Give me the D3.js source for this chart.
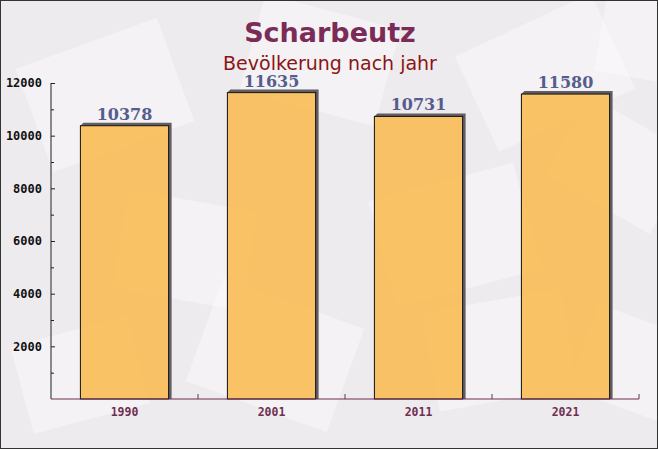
<!DOCTYPE html>
<html><head><meta charset="utf-8">
<script src="https://cdn.jsdelivr.net/npm/d3@7"></script>
<style>html,body{margin:0;padding:0;background:#fff}svg{display:block}</style>
</head><body>
<script>
const years = ["1990", "2001", "2011", "2021"];
const population = [10378, 11635, 10731, 11580];
const yTicks = [2000, 4000, 6000, 8000, 10000, 12000];
const title = "Scharbeutz";
const subtitle = "Bevölkerung nach jahr";

const W = 658, H = 449;
const m = {left: 51, right: 19, top: 83, bottom: 50};
const svg = d3.select("body").append("svg").attr("width", W).attr("height", H);

// background
svg.append("rect").attr("width", W).attr("height", H).attr("fill", "#eeebee");
const deco = svg.append("g");
const shapes = [[30,40,150,110,-20],[250,10,140,100,15],[470,20,150,105,-25],[560,120,120,90,30],[120,200,130,100,10],[380,180,150,110,-15],[200,300,150,110,20],[430,300,140,100,-10],[20,330,120,90,-15],[580,320,110,90,20],[600,0,100,80,10]];
shapes.forEach(s => {
  deco.append("rect").attr("x", s[0]).attr("y", s[1]).attr("width", s[2]).attr("height", s[3])
    .attr("fill", "#ffffff").attr("opacity", 0.35)
    .attr("transform", `rotate(${s[4]},${s[0]+s[2]/2},${s[1]+s[3]/2})`);
});

const x = d3.scaleBand().domain(years).range([m.left, W - m.right]).paddingInner(0.4).paddingOuter(0.2);
const xb = d3.scaleBand().domain(years).range([m.left, W - m.right]);
const y = d3.scaleLinear().domain([0, 12000]).range([H - m.bottom, m.top]);

// shadows
const d = 3;
svg.append("g").selectAll("path").data(population).join("path")
  .attr("d", (v, i) => {
    const x0 = x(years[i]), x1 = x0 + x.bandwidth(), yt = y(v), yb = y(0);
    return `M${x0},${yt} L${x0+d},${yt-d} L${x1+d},${yt-d} L${x1+d},${yb} L${x1},${yb} L${x1},${yt} Z`;
  })
  .attr("fill", "#615d63");

svg.append("g").selectAll("rect").data(population).join("rect")
  .attr("x", (v, i) => x(years[i])).attr("y", v => y(v))
  .attr("width", x.bandwidth()).attr("height", v => y(0) - y(v))
  .attr("fill", "#f9bd55").attr("fill-opacity", 0.9)
  .attr("stroke", "#111").attr("stroke-width", 1);

// value labels
svg.append("g").selectAll("text").data(population).join("text")
  .attr("x", (v, i) => x(years[i]) + x.bandwidth() / 2)
  .attr("y", v => y(v) - 6)
  .attr("text-anchor", "middle")
  .attr("font-family", "DejaVu Serif").attr("font-weight", "bold").attr("font-size", 16)
  .attr("fill", "#565d8c").text(v => v);

// y axis
const yAxis = d3.axisLeft(y).tickValues(d3.range(1000, 12001, 1000)).tickSize(-4)
  .tickFormat(v => yTicks.includes(v) ? v : "");
const gy = svg.append("g").attr("transform", `translate(${m.left},0)`).call(yAxis);
gy.select(".domain").attr("stroke", "#222").attr("d", `M${0},${y(12000)}V${y(0)}`);
gy.selectAll(".tick line").attr("stroke", "#222").attr("x2", v => yTicks.includes(v) ? 4 : 3);
gy.selectAll(".tick text").attr("x", -9)
  .attr("font-family", "DejaVu Sans Mono").attr("font-weight", "bold").attr("font-size", 12).attr("fill", "#111");

// x axis
const gx = svg.append("g").attr("transform", `translate(0,${y(0)})`);
gx.append("line").attr("x1", m.left).attr("x2", W - m.right).attr("stroke", "#6e2f52");
gx.selectAll("line.tk").data(years).join("line").attr("class", "tk")
  .attr("x1", yv => xb(yv) + xb.bandwidth()).attr("x2", yv => xb(yv) + xb.bandwidth())
  .attr("y1", 0).attr("y2", -5).attr("stroke", "#6e2f52");
gx.selectAll("text").data(years).join("text")
  .attr("x", yv => xb(yv) + xb.bandwidth() / 2).attr("y", 17)
  .attr("text-anchor", "middle")
  .attr("font-family", "DejaVu Sans Mono").attr("font-weight", "bold").attr("font-size", 11.5)
  .attr("fill", "#6e2f52").text(yv => yv);

// titles
svg.append("text").attr("x", W / 2 + 1).attr("y", 42).attr("text-anchor", "middle")
  .attr("font-family", "DejaVu Sans").attr("font-weight", "bold").attr("font-size", 27)
  .attr("fill", "#7a2b56").text(title);
svg.append("text").attr("x", W / 2 + 1).attr("y", 70).attr("text-anchor", "middle")
  .attr("font-family", "DejaVu Sans").attr("font-size", 19)
  .attr("fill", "#8b1515").text(subtitle);

// frame
svg.append("rect").attr("x", 0.5).attr("y", 0.5).attr("width", W - 1).attr("height", H - 1)
  .attr("fill", "none").attr("stroke", "#333");
</script>
</body></html>
